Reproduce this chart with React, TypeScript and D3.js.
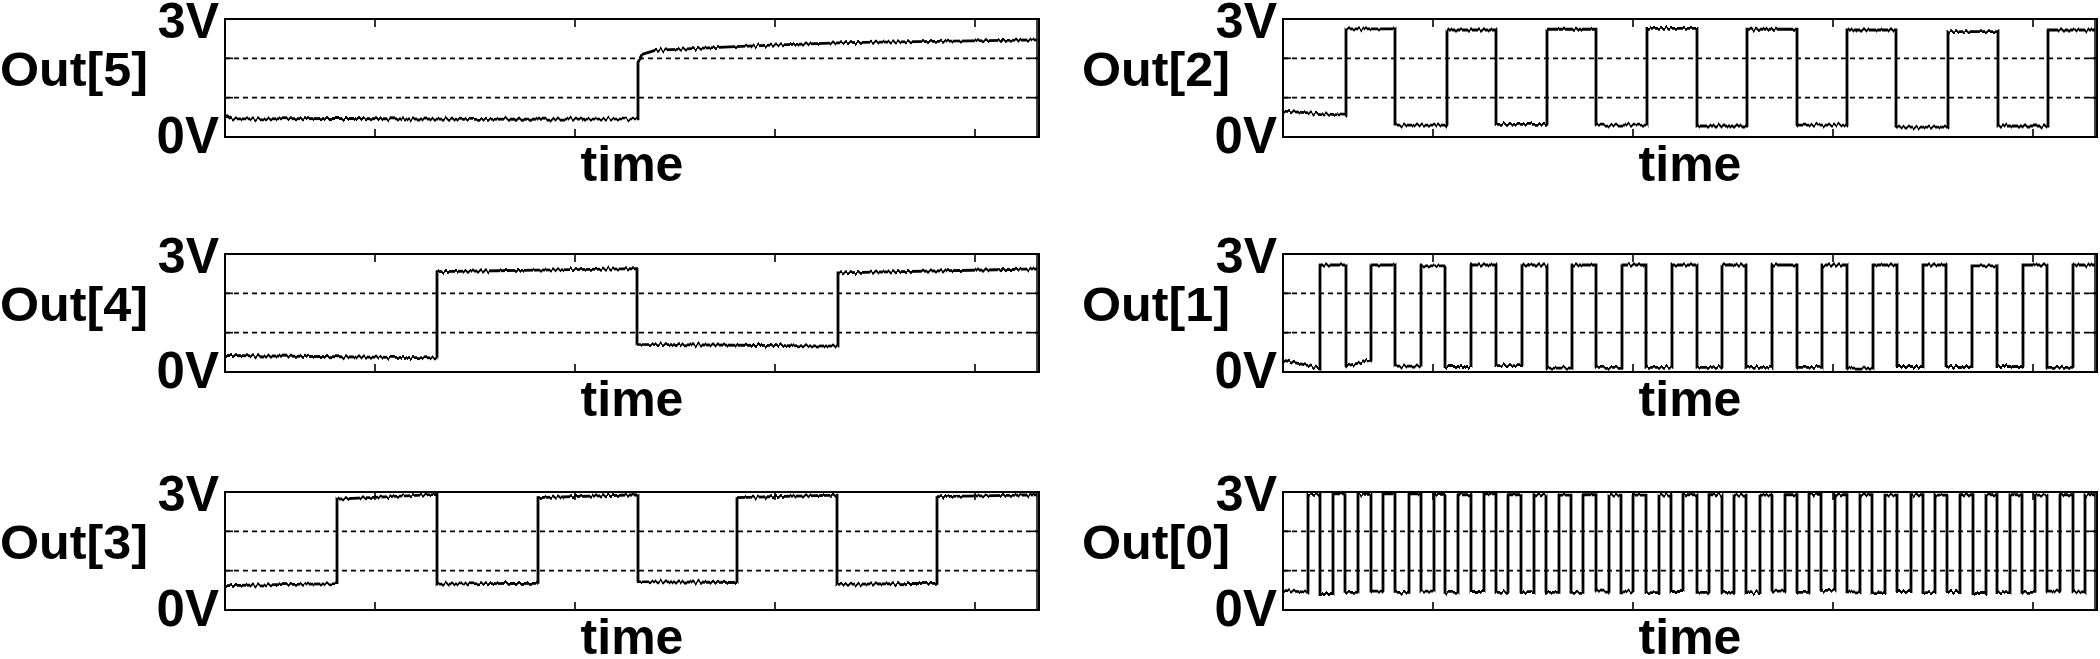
import React from "react";
import * as d3 from "d3";

// page / layout
const W = 2100;
const H = 659;
const boxW = 814;
const boxH = 118;
const colX = [225, 1283];
const rowY = [19, 254, 492];
const labelLeft = [0, 1082];
const labelWidth = 148;
const FONT = "'Liberation Sans', Arial, Helvetica, sans-serif";

// axis data (time in arbitrary units, 2 units per major tick)
const timeDomain = [0, 8.14];
const traceEnd = 8.12;
const tickTimes = [1.5, 3.5, 5.5, 7.5];
const gridVolts = [1, 2];
const voltLabels = ["3V", "0V"];

const signalNames = ["Out[5]", "Out[4]", "Out[3]", "Out[2]", "Out[1]", "Out[0]"];

// transition times and the level of each segment between them
// a level is a single value, a [start, end] pair, or an explicit list of [t, v]
type Level = number | [number, number] | [number, number][];

const out5Edges = [4.13];
const out5Levels: Level[] = [
  [[0, 0.58], [0.06, 0.46], [1.2, 0.47], [2.5, 0.45], [4.13, 0.46]],
  [[4.13, 1.9], [4.17, 2.1], [4.3, 2.2], [5.1, 2.3], [6.2, 2.4], [7.1, 2.43], [8.12, 2.47]],
];

const out4Edges = [2.12, 4.12, 6.13];
const out4Levels: Level[] = [[0.42, 0.36], [2.55, 2.63], [0.7, 0.66], [2.52, 2.62]];

const out3Edges = [1.12, 2.12, 3.13, 4.13, 5.12, 6.12, 7.12];
const out3Levels: Level[] = [
  [0.62, 0.67], [2.82, 2.94], [0.66, 0.68], [2.86, 2.93],
  [0.72, 0.7], [2.86, 2.92], [0.65, 0.68], [2.88, 2.93],
];

const out2Edges = [0.63, 1.12, 1.64, 2.13, 2.64, 3.13, 3.64, 4.14, 4.64, 5.14, 5.64, 6.13, 6.65, 7.15, 7.65];
const out2Levels: Level[] = [
  [0.66, 0.55], 2.75, 0.3, 2.72, 0.32, 2.74, 0.3, 2.76,
  0.28, 2.74, 0.3, 2.72, 0.25, 2.68, 0.28, 2.72,
];

const out1Edges = [
  0.37, 0.63, 0.88, 1.12, 1.38, 1.62, 1.88, 2.13, 2.39, 2.64, 2.89, 3.13, 3.39, 3.63, 3.89, 4.14,
  4.39, 4.63, 4.89, 5.14, 5.39, 5.64, 5.9, 6.14, 6.4, 6.63, 6.89, 7.14, 7.4, 7.64, 7.9,
];
const out1Levels: Level[] = [
  [0.3, 0.1], 2.72, [0.15, 0.3], 2.72, 0.15, 2.7, 0.14, 2.72,
  0.16, 2.72, 0.1, 2.72, 0.12, 2.72, 0.12, 2.72,
  0.12, 2.72, 0.12, 2.72, 0.12, 2.72, 0.1, 2.72,
  0.14, 2.72, 0.14, 2.7, 0.14, 2.72, 0.12, 2.72,
];

const out0Edges = [
  0.25, 0.37, 0.5, 0.62, 0.75, 0.88, 1.0, 1.12, 1.26, 1.38, 1.51, 1.62, 1.75, 1.88, 2.01, 2.13,
  2.25, 2.38, 2.51, 2.63, 2.76, 2.88, 3.0, 3.13, 3.26, 3.38, 3.5, 3.63, 3.76, 3.88, 4.0, 4.14,
  4.26, 4.39, 4.51, 4.63, 4.77, 4.89, 5.02, 5.14, 5.26, 5.38, 5.52, 5.64, 5.77, 5.89, 6.02, 6.14,
  6.28, 6.4, 6.52, 6.64, 6.77, 6.9, 7.03, 7.14, 7.27, 7.39, 7.52, 7.64, 7.77, 7.9, 8.02,
];
const out0Levels: Level[] = [
  [0.5, 0.45], 2.94, 0.42, 2.95, 0.45, 2.94, 0.48, 2.95,
  0.45, 2.95, 0.48, 2.94, 0.45, 2.93, 0.47, 2.95,
  0.45, 2.93, 0.44, 2.93, 0.45, 2.92, 0.45, 2.93,
  0.48, 2.92, 0.46, 2.92, 0.44, 2.92, 0.47, 2.93,
  0.45, 2.93, 0.45, 2.92, 0.44, 2.92, 0.48, 2.93,
  0.45, 2.94, 0.5, 2.93, 0.46, 2.93, 0.44, 2.92,
  0.47, 2.93, 0.44, 2.92, 0.47, 2.93, 0.42, 2.93,
  0.44, 2.93, 0.45, 2.92, 0.48, 2.93, 0.46, 2.93,
];

const signalEdges = [out5Edges, out4Edges, out3Edges, out2Edges, out1Edges, out0Edges];
const signalLevels = [out5Levels, out4Levels, out3Levels, out2Levels, out1Levels, out0Levels];

function buildPoints(edges: number[], levels: Level[]): [number, number][] {
  const pts: [number, number][] = [];
  levels.forEach((lv, i) => {
    const t0 = i === 0 ? 0 : edges[i - 1];
    const t1 = i < edges.length ? edges[i] : traceEnd;
    if (typeof lv === "number") {
      pts.push([t0, lv], [t1, lv]);
    } else if (typeof lv[0] === "number") {
      const pair = lv as [number, number];
      pts.push([t0, pair[0]], [t1, pair[1]]);
    } else {
      (lv as [number, number][]).forEach((p) => pts.push(p));
    }
  });
  return pts;
}

const x = d3.scaleLinear().domain(timeDomain).range([0, boxW]);
const y = d3.scaleLinear().domain([0, 3]).range([boxH, 0]);
const line = d3
  .line<[number, number]>()
  .x((d) => x(d[0]))
  .y((d) => y(d[1]));

function Panel({ index }: { index: number }) {
  const col = index < 3 ? 0 : 1;
  const row = index % 3;
  const left = colX[col];
  const top = rowY[row];
  const pts = buildPoints(signalEdges[index], signalLevels[index]);

  return (
    <g transform={`translate(${left},${top})`}>
      {/* dashed grid at 1V and 2V */}
      {gridVolts.map((v) => (
        <line
          key={"g" + v}
          x1={0}
          x2={boxW}
          y1={y(v)}
          y2={y(v)}
          stroke="#000"
          strokeWidth={1.7}
          strokeDasharray="5 4"
        />
      ))}
      {/* inner ticks */}
      {tickTimes.map((t) => (
        <g key={"t" + t}>
          <line x1={x(t)} x2={x(t)} y1={0} y2={8} stroke="#000" strokeWidth={1.6} />
          <line x1={x(t)} x2={x(t)} y1={boxH} y2={boxH - 8} stroke="#000" strokeWidth={1.6} />
        </g>
      ))}
      {gridVolts.map((v) => (
        <g key={"yt" + v}>
          <line x1={0} x2={8} y1={y(v)} y2={y(v)} stroke="#000" strokeWidth={1.6} />
          <line x1={boxW} x2={boxW - 8} y1={y(v)} y2={y(v)} stroke="#000" strokeWidth={1.6} />
        </g>
      ))}
      {/* trace */}
      <path
        d={line(pts) || ""}
        fill="none"
        stroke="#000"
        strokeWidth={2.8}
        strokeLinejoin="miter"
        filter="url(#jitter)"
      />
      <line
        x1={x(traceEnd)}
        x2={x(traceEnd)}
        y1={0}
        y2={boxH}
        stroke="#000"
        strokeWidth={1.5}
      />
      {/* frame */}
      <rect x={0} y={0} width={boxW} height={boxH} fill="none" stroke="#000" strokeWidth={2} />

      {/* labels */}
      <text
        x={-6}
        y={19}
        textAnchor="end"
        fontFamily={FONT}
        fontWeight="bold"
        fontSize={50}
      >
        {voltLabels[0]}
      </text>
      <text
        x={-6}
        y={boxH + 16}
        textAnchor="end"
        fontFamily={FONT}
        fontWeight="bold"
        fontSize={51}
      >
        {voltLabels[1]}
      </text>
      <text
        x={labelLeft[col] - left}
        y={boxH / 2 + 8}
        textAnchor="start"
        fontFamily={FONT}
        fontWeight="bold"
        fontSize={48}
        textLength={labelWidth}
        lengthAdjust="spacingAndGlyphs"
      >
        {signalNames[index]}
      </text>
      <text
        x={boxW / 2}
        y={boxH + 44}
        textAnchor="middle"
        fontFamily={FONT}
        fontWeight="bold"
        fontSize={50}
      >
        time
      </text>
    </g>
  );
}

export default function App() {
  return (
    <>
      <style>{"body{margin:0}"}</style>
      <svg width={W} height={H} viewBox={`0 0 ${W} ${H}`} style={{ display: "block", background: "#fff" }}>
        <defs>
          <filter id="jitter" x="-2%" y="-10%" width="104%" height="120%">
            <feTurbulence type="fractalNoise" baseFrequency="0.4 0.002" numOctaves={1} seed={3} result="n" />
            <feColorMatrix
              in="n"
              type="matrix"
              values="0 0 0 0 0.5  1 0 0 0 0  0 0 0 0 0  0 0 0 0 1"
              result="m"
            />
            <feDisplacementMap in="SourceGraphic" in2="m" scale={7} xChannelSelector="R" yChannelSelector="G" />
          </filter>
        </defs>
        <rect width={W} height={H} fill="#fff" />
        {signalNames.map((_, i) => (
          <Panel key={i} index={i} />
        ))}
      </svg>
    </>
  );
}
